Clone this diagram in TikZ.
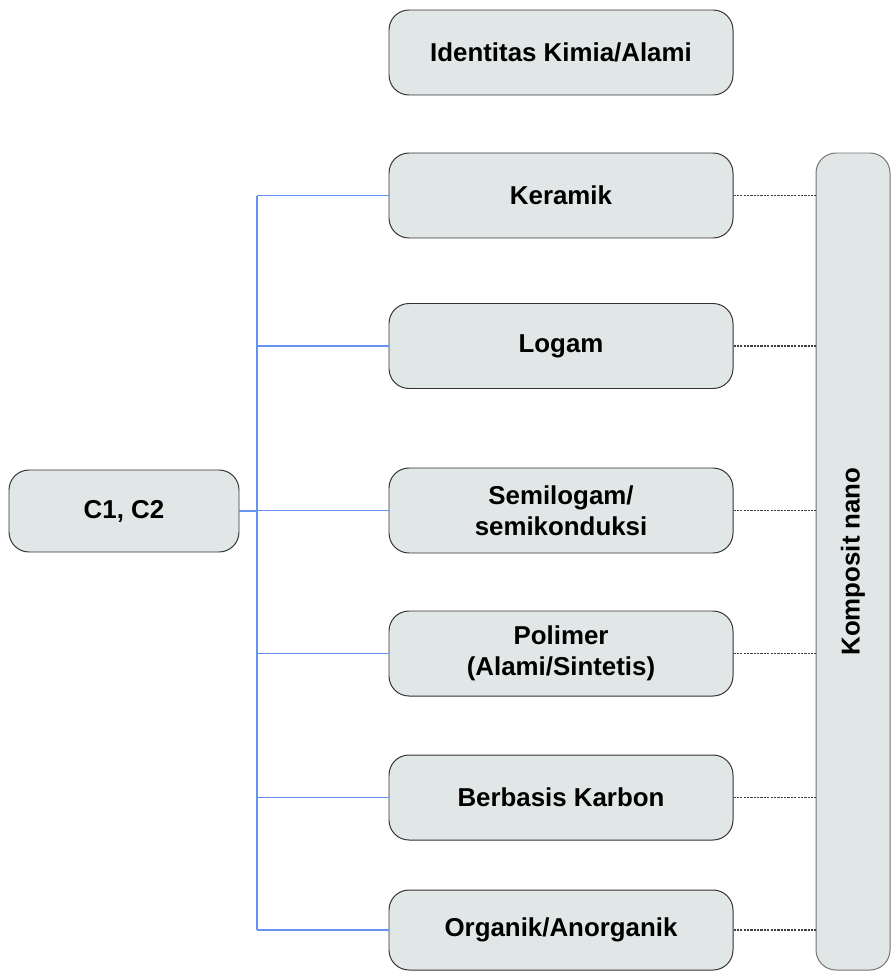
\documentclass[tikz,border=0pt]{standalone}
\usepackage{fontspec}
\setmainfont{Liberation Sans}
\usepackage{tikz}
\usetikzlibrary{calc}

\definecolor{boxgray}{RGB}{225,230,230}
\definecolor{linkblue}{RGB}{100,148,240}

\tikzset{
	kotak/.style={draw=black!80,line width=0.7pt,fill=boxgray,rounded corners=0.5cm,
		minimum width=8.6cm,minimum height=2.125cm,align=center,
		font=\fontsize{18.4}{22}\selectfont\bfseries},
	cabang/.style={linkblue,line width=0.9pt},
	titik/.style={black!75,dash pattern=on 1.6pt off 0.8pt,line width=0.8pt}
}

\begin{document}
\begin{tikzpicture}
	\useasboundingbox (0,0) rectangle (22.25,-24.275);

	\node [kotak](IDK) at (14.025,-1.3125) {Identitas Kimia/Alami};
	\node [kotak](KER) at (14.025,-4.8875) {Keramik};
	\node [kotak](LOG) at (14.025,-8.65) {Logam};
	\node [kotak](SEM) at (14.025,-12.7625) {Semilogam/\\semikonduksi};
	\node [kotak](POL) at (14.025,-16.3375) {Polimer\\(Alami/Sintetis)};
	\node [kotak](KAR) at (14.025,-19.9375) {Berbasis Karbon};
	\node [kotak,minimum height=2cm](ORG) at (14.025,-23.25) {Organik/Anorganik};
	\node [kotak,minimum width=5.75cm,minimum height=2.05cm](C12) at (3.1,-12.775) {C1, C2};
	\node [kotak,draw=black!55,rotate=90,minimum width=20.425cm,minimum height=1.85cm](KOM) at (21.325,-14.0375) {Komposit nano};

	\coordinate (T) at (6.425,0);

	\draw [cabang] (C12.east) to (T |- C12.east);
	\draw [cabang] (T |- KER.west) to (T |- ORG.west);
	\foreach \b in {KER,LOG,SEM,POL,KAR,ORG}
		\draw [cabang] (T |- \b.west) to (\b.west);

	\foreach \b in {KER,LOG,SEM,POL,KAR,ORG}
		\draw [titik] (\b.east) to (\b.east -| KOM.north);
\end{tikzpicture}
\end{document}
